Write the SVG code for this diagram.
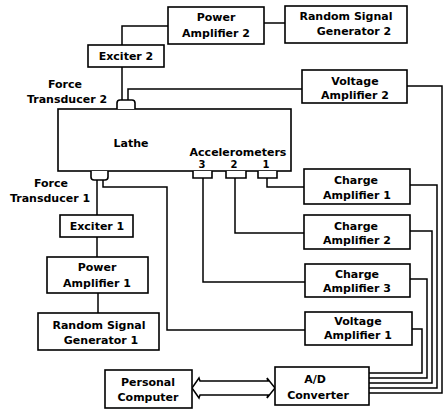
<svg xmlns="http://www.w3.org/2000/svg" width="444" height="412" viewBox="0 0 444 412">
<style>
.b{fill:#fff;stroke:#000;stroke-width:1.6}
.w{fill:none;stroke:#000;stroke-width:1.5}
text{font-family:"DejaVu Sans","Liberation Sans",sans-serif;font-weight:bold;font-size:11px;fill:#000;text-anchor:middle}
.s{font-size:10px}
</style>
<rect width="444" height="412" fill="#fff"/>
<g id="connectors" class="w">
<path d="M264,23 H285"/>
<path d="M168,26 H122 V45"/>
<path d="M122,67 V100"/>
<path d="M128,100 V89 H302"/>
<path d="M97,180 V215"/>
<path d="M103,180 V187 H167 V330 H305"/>
<path d="M97,237 V257"/>
<path d="M98,293 V313"/>
<path d="M203,178 V282 H305"/>
<path d="M235,178 V233 H304"/>
<path d="M267,178 V187 H304"/>
<path d="M407,86 H442 V393 H369"/>
<path d="M410,185 H437 V388 H369"/>
<path d="M410,231 H432 V383 H369"/>
<path d="M410,279 H427 V378 H369"/>
<path d="M412,329 H422 V373 H369"/>
<path d="M200,381 L268,381 L267,378 L275,388 L267,398 L268,395 L200,395 L199,398 L192,388 L199,378 Z" fill="#fff"/>
</g>
<g id="lathe">
<rect class="b" x="58" y="109" width="233" height="62"/>
<text x="131" y="147">Lathe</text>
<text x="238" y="156">Accelerometers</text>
<text class="s" x="202" y="168">3</text>
<text class="s" x="234" y="168">2</text>
<text class="s" x="266" y="168">1</text>
</g>
<g id="force-transducer-2">
<path class="b" d="M117,109 V103 Q117,100 120,100 H132 Q135,100 135,103 V109"/>
<text x="65" y="88">Force</text>
<text x="67" y="103">Transducer 2</text>
</g>
<g id="force-transducer-1">
<path class="b" d="M91,171 V177 Q91,180 94,180 H105 Q108,180 108,177 V171"/>
<text x="51" y="187">Force</text>
<text x="50" y="202">Transducer 1</text>
</g>
<g id="accelerometer-3"><path class="b" d="M193,171 V178 H212 V171"/></g>
<g id="accelerometer-2"><path class="b" d="M226,171 V178 H246 V171"/></g>
<g id="accelerometer-1"><path class="b" d="M258,171 V178 H277 V171"/></g>
<g id="power-amplifier-2">
<rect class="b" x="168" y="7" width="96" height="37"/>
<text x="216" y="21">Power</text>
<text x="216" y="37">Amplifier 2</text>
</g>
<g id="random-signal-generator-2">
<rect class="b" x="285" y="6" width="122" height="37"/>
<text x="346" y="20">Random Signal</text>
<text x="354" y="35">Generator 2</text>
</g>
<g id="exciter-2">
<rect class="b" x="88" y="45" width="76" height="22"/>
<text x="126" y="60">Exciter 2</text>
</g>
<g id="voltage-amplifier-2">
<rect class="b" x="302" y="70" width="105" height="33"/>
<text x="355" y="85">Voltage</text>
<text x="355" y="99">Amplifier 2</text>
</g>
<g id="exciter-1">
<rect class="b" x="60" y="215" width="73" height="22"/>
<text x="97" y="230">Exciter 1</text>
</g>
<g id="power-amplifier-1">
<rect class="b" x="47" y="257" width="101" height="36"/>
<text x="97" y="271">Power</text>
<text x="97" y="287">Amplifier 1</text>
</g>
<g id="random-signal-generator-1">
<rect class="b" x="38" y="313" width="121" height="37"/>
<text x="99" y="329">Random Signal</text>
<text x="101" y="344">Generator 1</text>
</g>
<g id="charge-amplifier-1">
<rect class="b" x="304" y="169" width="106" height="35"/>
<text x="356" y="184">Charge</text>
<text x="357" y="199">Amplifier 1</text>
</g>
<g id="charge-amplifier-2">
<rect class="b" x="304" y="215" width="106" height="34"/>
<text x="356" y="230">Charge</text>
<text x="357" y="244">Amplifier 2</text>
</g>
<g id="charge-amplifier-3">
<rect class="b" x="305" y="264" width="105" height="33"/>
<text x="357" y="278">Charge</text>
<text x="357" y="292">Amplifier 3</text>
</g>
<g id="voltage-amplifier-1">
<rect class="b" x="305" y="312" width="107" height="33"/>
<text x="358" y="325">Voltage</text>
<text x="358" y="339">Amplifier 1</text>
</g>
<g id="ad-converter">
<rect class="b" x="275" y="367" width="94" height="38"/>
<text x="315" y="383">A/D</text>
<text x="318" y="399">Converter</text>
</g>
<g id="personal-computer">
<rect class="b" x="105" y="370" width="87" height="38"/>
<text x="148" y="386">Personal</text>
<text x="148" y="401">Computer</text>
</g>
</svg>
